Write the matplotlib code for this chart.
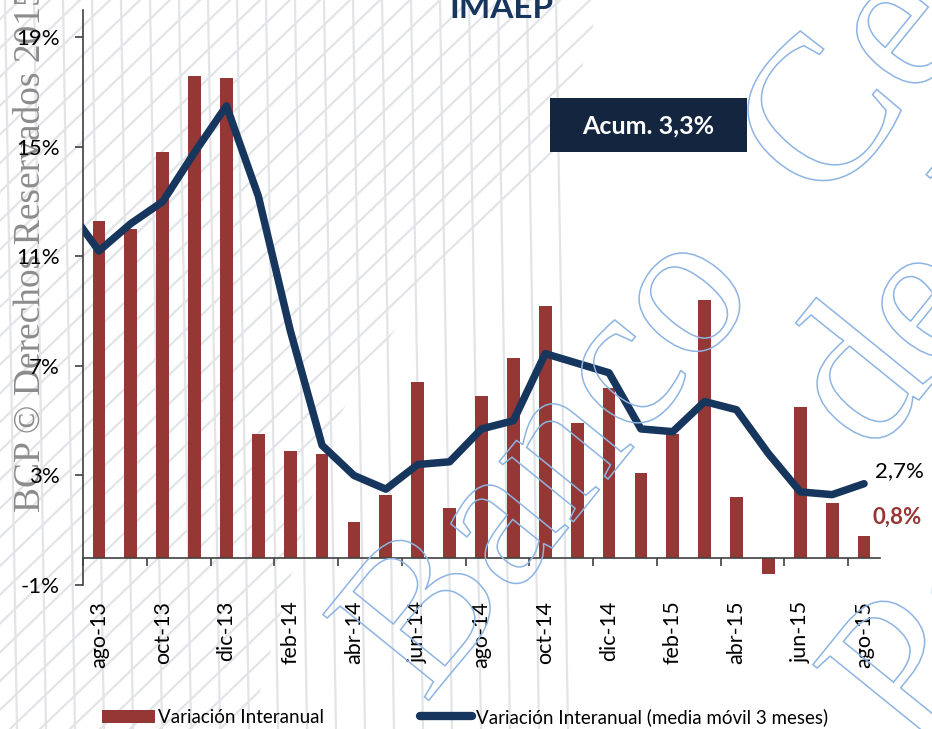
import numpy as np
import matplotlib
matplotlib.use('Agg')
import matplotlib.pyplot as plt
from matplotlib.patches import Patch, Rectangle, PathPatch
from matplotlib.lines import Line2D
from matplotlib.textpath import TextPath
from matplotlib.font_manager import FontProperties
import matplotlib.transforms as mtransforms

plt.rcParams['font.family'] = ['Lato', 'DejaVu Sans']

# data
meses = ['ago-13', 'sep-13', 'oct-13', 'nov-13', 'dic-13', 'ene-14', 'feb-14', 'mar-14',
         'abr-14', 'may-14', 'jun-14', 'jul-14', 'ago-14', 'sep-14', 'oct-14', 'nov-14',
         'dic-14', 'ene-15', 'feb-15', 'mar-15', 'abr-15', 'may-15', 'jun-15', 'jul-15', 'ago-15']
var_interanual = [12.3, 12.0, 14.8, 17.6, 17.5, 4.5, 3.9, 3.8, 1.3, 2.3, 6.4, 1.8, 5.9,
                  7.3, 9.2, 4.9, 6.2, 3.1, 4.5, 9.4, 2.2, -0.6, 5.5, 2.0, 0.8]
# media movil 3 meses, starts one month earlier (jul-13)
media_movil = [12.8, 11.2, 12.2, 13.0, 14.8, 16.5, 13.2, 8.3, 4.1, 3.0, 2.5, 3.4, 3.5,
               4.7, 5.0, 7.45, 7.1, 6.75, 4.7, 4.6, 5.7, 5.4, 3.8, 2.4, 2.3, 2.7]
yticks = [-1, 3, 7, 11, 15, 19]
acum = '3,3%'

RED = '#953735'
NAVY = '#17365D'
W, H = 932, 729

def fx(px):
    return px / W

def fy(py):
    return 1 - py / H

fig = plt.figure(figsize=(W / 100, H / 100), dpi=100)
fig.patch.set_facecolor('white')

# background watermark lines
clip_poly = plt.Polygon([(fx(0), fy(0)), (fx(600), fy(0)), (fx(560), fy(150)), (fx(440), fy(260)),
                         (fx(330), fy(430)), (fx(250), fy(729)), (fx(0), fy(729))],
                        closed=True, transform=fig.transFigure, facecolor='none', edgecolor='none')
for x0 in np.arange(-800, 700, 30):
    ln = Line2D([fx(x0), fx(x0 + 760)], [fy(729), fy(0)], transform=fig.transFigure,
                color='#E2E4E8', lw=1.6, zorder=-5)
    fig.add_artist(ln)
    ln.set_clip_path(clip_poly)
for x0 in np.arange(5, 570, 29):
    ln = Line2D([fx(x0), fx(x0 + 12)], [fy(0), fy(729)], transform=fig.transFigure,
                color='#E2E4E8', lw=1.6, zorder=-5)
    fig.add_artist(ln)

ax = fig.add_axes([fx(83), fy(585), fx(880) - fx(83), fy(10) - fy(585)])
ax.set_facecolor('none')

x = np.arange(len(meses))
ax.bar(x, var_interanual, width=0.4, color=RED, zorder=2)
x_mm = np.arange(-1, len(media_movil) - 1)
ax.plot(x_mm, media_movil, color=NAVY, lw=5.4, solid_capstyle='round',
        solid_joinstyle='round', zorder=3)

ax.set_xlim(-0.5, len(meses) - 0.5)
ax.set_ylim(-1, 20)

for s in ['top', 'right']:
    ax.spines[s].set_visible(False)
ax.spines['bottom'].set_position(('data', 0))
ax.spines['bottom'].set_color('#404040')
ax.spines['left'].set_color('#404040')
ax.spines['bottom'].set_linewidth(1.2)
ax.spines['left'].set_linewidth(1.2)

ax.set_yticks(yticks)
ax.set_yticklabels([f'{v}%' for v in yticks], fontsize=16)
ax.tick_params(axis='y', direction='out', length=6, width=1.2, color='#404040', pad=11)

ax.set_xticks(x[::2])
ax.set_xticklabels(meses[::2], rotation=90, fontsize=15.5)
ax.set_xticks(np.arange(-0.5, len(meses), 2), minor=True)
ax.tick_params(axis='x', which='major', length=0, pad=31)
ax.tick_params(axis='x', which='minor', direction='out', length=6, width=1.2, color='#404040')

# end labels
ax.annotate(f'{media_movil[-1]:.1f}%'.replace('.', ','), xy=(x[-1], media_movil[-1]),
            xytext=(8, 9), textcoords='offset points', fontsize=16, color='black',
            va='center', ha='left')
ax.annotate(f'{var_interanual[-1]:.1f}%'.replace('.', ','), xy=(x[-1], var_interanual[-1]),
            xytext=(6, 13), textcoords='offset points', fontsize=16, color=RED,
            fontweight='bold', va='center', ha='left')

# acumulado box
fig.add_artist(Rectangle((fx(550), fy(152)), fx(747) - fx(550), fy(98) - fy(152),
                         transform=fig.transFigure, facecolor='#13253F', edgecolor='none', zorder=4))
fig.text(fx(648), fy(126), f'Acum. {acum}', color='white', fontsize=18, fontweight='bold',
         ha='center', va='center', zorder=5)

# title (cut at top)
fig.text(fx(501), fy(18), 'IMAEP', ha='center', va='baseline', fontsize=24,
         fontweight='bold', color=NAVY)

# legend
handles = [Patch(facecolor=RED, edgecolor='none'),
           Line2D([], [], color=NAVY, lw=6, solid_capstyle='round')]
fig.legend(handles, ['Variación Interanual', 'Variación Interanual (media móvil 3 meses)'],
           loc='center left', bbox_to_anchor=(fx(102), fy(717)), ncol=2, frameon=False,
           fontsize=13.5, handlelength=2.8, handletextpad=0.2, columnspacing=5.1,
           borderpad=0, borderaxespad=0)

# watermarks
fig.text(fx(30), fy(250), 'BCP © Derechos Reservados 2015', rotation=90, ha='center',
         va='center', fontsize=27, color='#8C8C8C', family='Liberation Serif', zorder=-1)

fp = FontProperties(family='Liberation Serif')
to_fig = mtransforms.Affine2D().scale(1 / W, 1 / H) + fig.transFigure
for txt, (sx, sy) in [('Banco  Central', (425, 705)), ('de Reserva', (872, 458)),
                      ('Perú', (915, 755))]:
    tp = TextPath((0, 0), txt, size=208, prop=fp)
    tr = mtransforms.Affine2D().rotate_deg(51).translate(sx, H - sy)
    fig.add_artist(PathPatch(tp, transform=tr + to_fig, facecolor='none',
                             edgecolor='#8DB4E2', lw=1.1, zorder=6))

fig.savefig('out.png', dpi=100)
